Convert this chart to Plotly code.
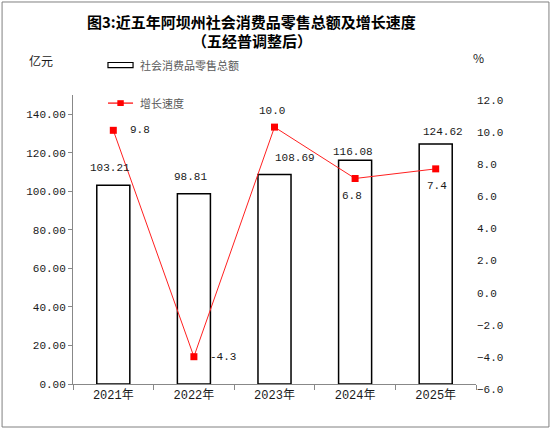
import plotly.graph_objects as go

years = ["2021年", "2022年", "2023年", "2024年", "2025年"]
sales = [103.21, 98.81, 108.69, 116.08, 124.62]
growth = [9.8, -4.3, 10.0, 6.8, 7.4]

# label nudges (px), roughly as Excel placed them
sales_dx = [-3, -3, 20, -2, 7]
sales_dy = [17, 17, 17, 8, 12]
growth_dx = [27, 29, -3, -3, 1]
growth_dy = [0, 0, 16, -18, -17]

num_font = "Liberation Mono, Noto Sans CJK SC"
cjk_font = "Noto Sans CJK SC"

fig = go.Figure()
fig.add_trace(go.Bar(
    x=years, y=sales, name="社会消费品零售总额",
    marker=dict(color="white", line=dict(color="black", width=1.5)),
))
fig.add_trace(go.Scatter(
    x=years, y=growth, name="增长速度", yaxis="y2", mode="lines+markers",
    line=dict(color="#ff2020", width=1),
    marker=dict(symbol="square", size=7, color="#ff0000"),
))

ann = []
for yr, v, dx, dy in zip(years, sales, sales_dx, sales_dy):
    ann.append(dict(x=yr, y=v, xref="x", yref="y", text=f"{v:.2f}", showarrow=False,
                    xshift=dx, yshift=dy, font=dict(family=num_font, size=11, color="#1a1a1a")))
for yr, v, dx, dy in zip(years, growth, growth_dx, growth_dy):
    ann.append(dict(x=yr, y=v, xref="x", yref="y2", text=f"{v:.1f}", showarrow=False,
                    xshift=dx, yshift=dy, font=dict(family=num_font, size=11, color="#1a1a1a")))


def paper_text(x, y, text, size, color, xanchor="center"):
    return dict(x=x, y=y, xref="paper", yref="paper", showarrow=False, text=text,
                xanchor=xanchor, yanchor="middle",
                font=dict(family=cjk_font, size=size, color=color))


# title, units, hand-made legend (paper coords of the plot area)
ann += [
    paper_text(0.444, 1.253, "<b>图3:近五年阿坝州社会消费品零售总额及增长速度</b>", 15, "black"),
    paper_text(0.444, 1.19, "<b>（五经普调整后）</b>", 15, "black"),
    paper_text(-0.079, 1.121, "亿元", 12, "#1a1a1a"),
    paper_text(1.005, 1.131, "%", 12, "#1a1a1a"),
    paper_text(0.161, 1.104, "社会消费品零售总额", 11, "#595959", "left"),
    paper_text(0.161, 0.972, "增长速度", 11, "#595959", "left"),
]

shapes = [
    dict(type="rect", xref="paper", yref="paper", x0=-0.176, x1=1.181, y0=-0.1488, y1=1.3218,
         line=dict(color="#808080", width=1)),
    dict(type="rect", xref="paper", yref="paper", x0=0.0868, x1=0.149, y0=1.095, y1=1.1125,
         line=dict(color="black", width=1.2), fillcolor="white"),
    dict(type="line", xref="paper", yref="paper", x0=0.0868, x1=0.149, y0=0.972, y1=0.972,
         line=dict(color="#ff0000", width=1.2)),
    dict(type="rect", xref="paper", yref="paper", x0=0.110, x1=0.126, y0=0.962, y1=0.982,
         line=dict(color="#ff0000", width=0), fillcolor="#ff0000"),
]

fig.update_layout(
    width=551, height=430,
    margin=dict(l=73, r=75, t=95, b=46),
    paper_bgcolor="white", plot_bgcolor="white",
    showlegend=False, bargap=0.59,
    annotations=ann, shapes=shapes,
    xaxis=dict(type="category", tickson="boundaries", ticks="outside", ticklen=5,
               tickcolor="#888888", showline=True, linecolor="#888888", linewidth=1,
               showgrid=False, tickfont=dict(family=num_font, size=12, color="#1a1a1a")),
    yaxis=dict(range=[0, 150], dtick=20, tickformat=".2f", ticks="outside", ticklen=4,
               tickcolor="#888888", showline=True, linecolor="#888888", linewidth=1,
               showgrid=False, zeroline=False,
               tickfont=dict(family=num_font, size=11, color="#1a1a1a")),
    yaxis2=dict(overlaying="y", side="right", range=[-6, 12], dtick=2, tickformat=".1f",
                showline=False, ticks="", showgrid=False, zeroline=False,
                ticklabelshift=5,
                tickfont=dict(family=num_font, size=11, color="#1a1a1a")),
)

fig.write_html("out.html", config={"displayModeBar": False},
               post_script="document.body.style.margin='0';")
